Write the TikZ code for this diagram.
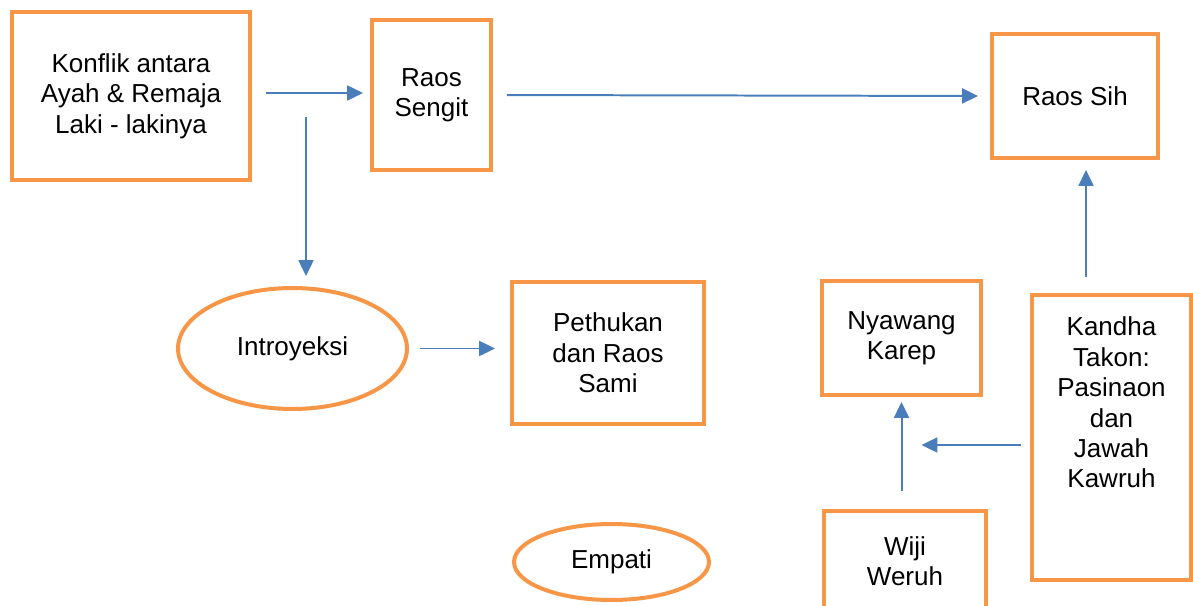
\documentclass[tikz,border=0pt]{standalone}
\usepackage{fontspec}
\setmainfont{Liberation Sans}
\usetikzlibrary{shapes.geometric,arrows.meta}
\definecolor{boxorange}{RGB}{247,150,70}
\definecolor{arrowblue}{RGB}{74,126,187}

\begin{document}
\begin{tikzpicture}[x=0.02cm,y=-0.02cm,
    every node/.style={font=\fontsize{14.8pt}{17.3pt}\selectfont, align=center},
    block/.style={rectangle, draw=boxorange, line width=2.27pt, fill=white, inner sep=0pt},
    oval/.style={ellipse, draw=boxorange, line width=2.27pt, fill=white, inner sep=0pt},
    link/.style={draw=arrowblue, line width=1.13pt, -{Triangle[length=9pt,width=8.5pt]}}]
      \useasboundingbox (0,0) rectangle (1193,605);
      \clip (0,0) rectangle (1193,605);
      % Top row
      \node[block, minimum width=4.76cm, minimum height=3.36cm] (konflik) at (131,96) {Konflik antara\\Ayah \& Remaja\\Laki - lakinya};
      \node[block, minimum width=2.38cm, minimum height=3.0cm] (sengit) at (431.5,95) {Raos\\Sengit};
      \node[block, minimum width=3.32cm, minimum height=2.48cm] (sih) at (1075,96) {Raos Sih};
      % Middle row
      \node[oval, minimum width=4.58cm, minimum height=2.42cm] (introyeksi) at (292.5,348.5) {Introyeksi};
      \node[block, minimum width=3.84cm, minimum height=2.84cm] (pethukan) at (608,353) {Pethukan\\dan Raos\\Sami};
      \node[block, minimum width=3.18cm, minimum height=2.28cm] (nyawang) at (901.5,338) {Nyawang\\Karep};
      \node[block, minimum width=3.18cm, minimum height=5.7cm] (kandha) at (1111.5,437.5) {Kandha\\Takon:\\Pasinaon\\dan\\Jawah\\Kawruh\\\strut\\\strut};
      % Bottom row
      \node[oval, minimum width=3.9cm, minimum height=1.52cm] (empati) at (611.5,562) {Empati};
      \node[block, minimum width=3.24cm, minimum height=2.02cm] (wiji) at (905,561.5) {Wiji\\Weruh};

      % Connectors
      \coordinate (split) at (306,117);
      \coordinate (join) at (901.5,445);
      \draw[link, shorten <=0.28cm, shorten >=0.14cm] ([yshift=0.06cm]konflik.east) -- ([yshift=0.06cm]konflik.east -| sengit.west);
      \draw[link, shorten >=0.2cm] (split) -- (split |- introyeksi.north);
      \draw[link, shorten <=0.28cm, shorten >=0.24cm] (sengit.east) -- (sih.west);
      \draw[link, shorten <=0.22cm, shorten >=0.3cm] (introyeksi.east) -- (introyeksi.east -| pethukan.west);
      \draw[link, shorten <=0.32cm, shorten >=0.2cm] ([xshift=-0.51cm]kandha.north) -- ([xshift=-0.51cm]kandha.north |- sih.south);
      \draw[link, shorten <=0.18cm, shorten >=0.4cm] (kandha.west |- join) -- (join);
      \draw[link, shorten <=0.36cm, shorten >=0.1cm] (nyawang.south |- wiji.north) -- (nyawang.south);
\end{tikzpicture}
\end{document}
